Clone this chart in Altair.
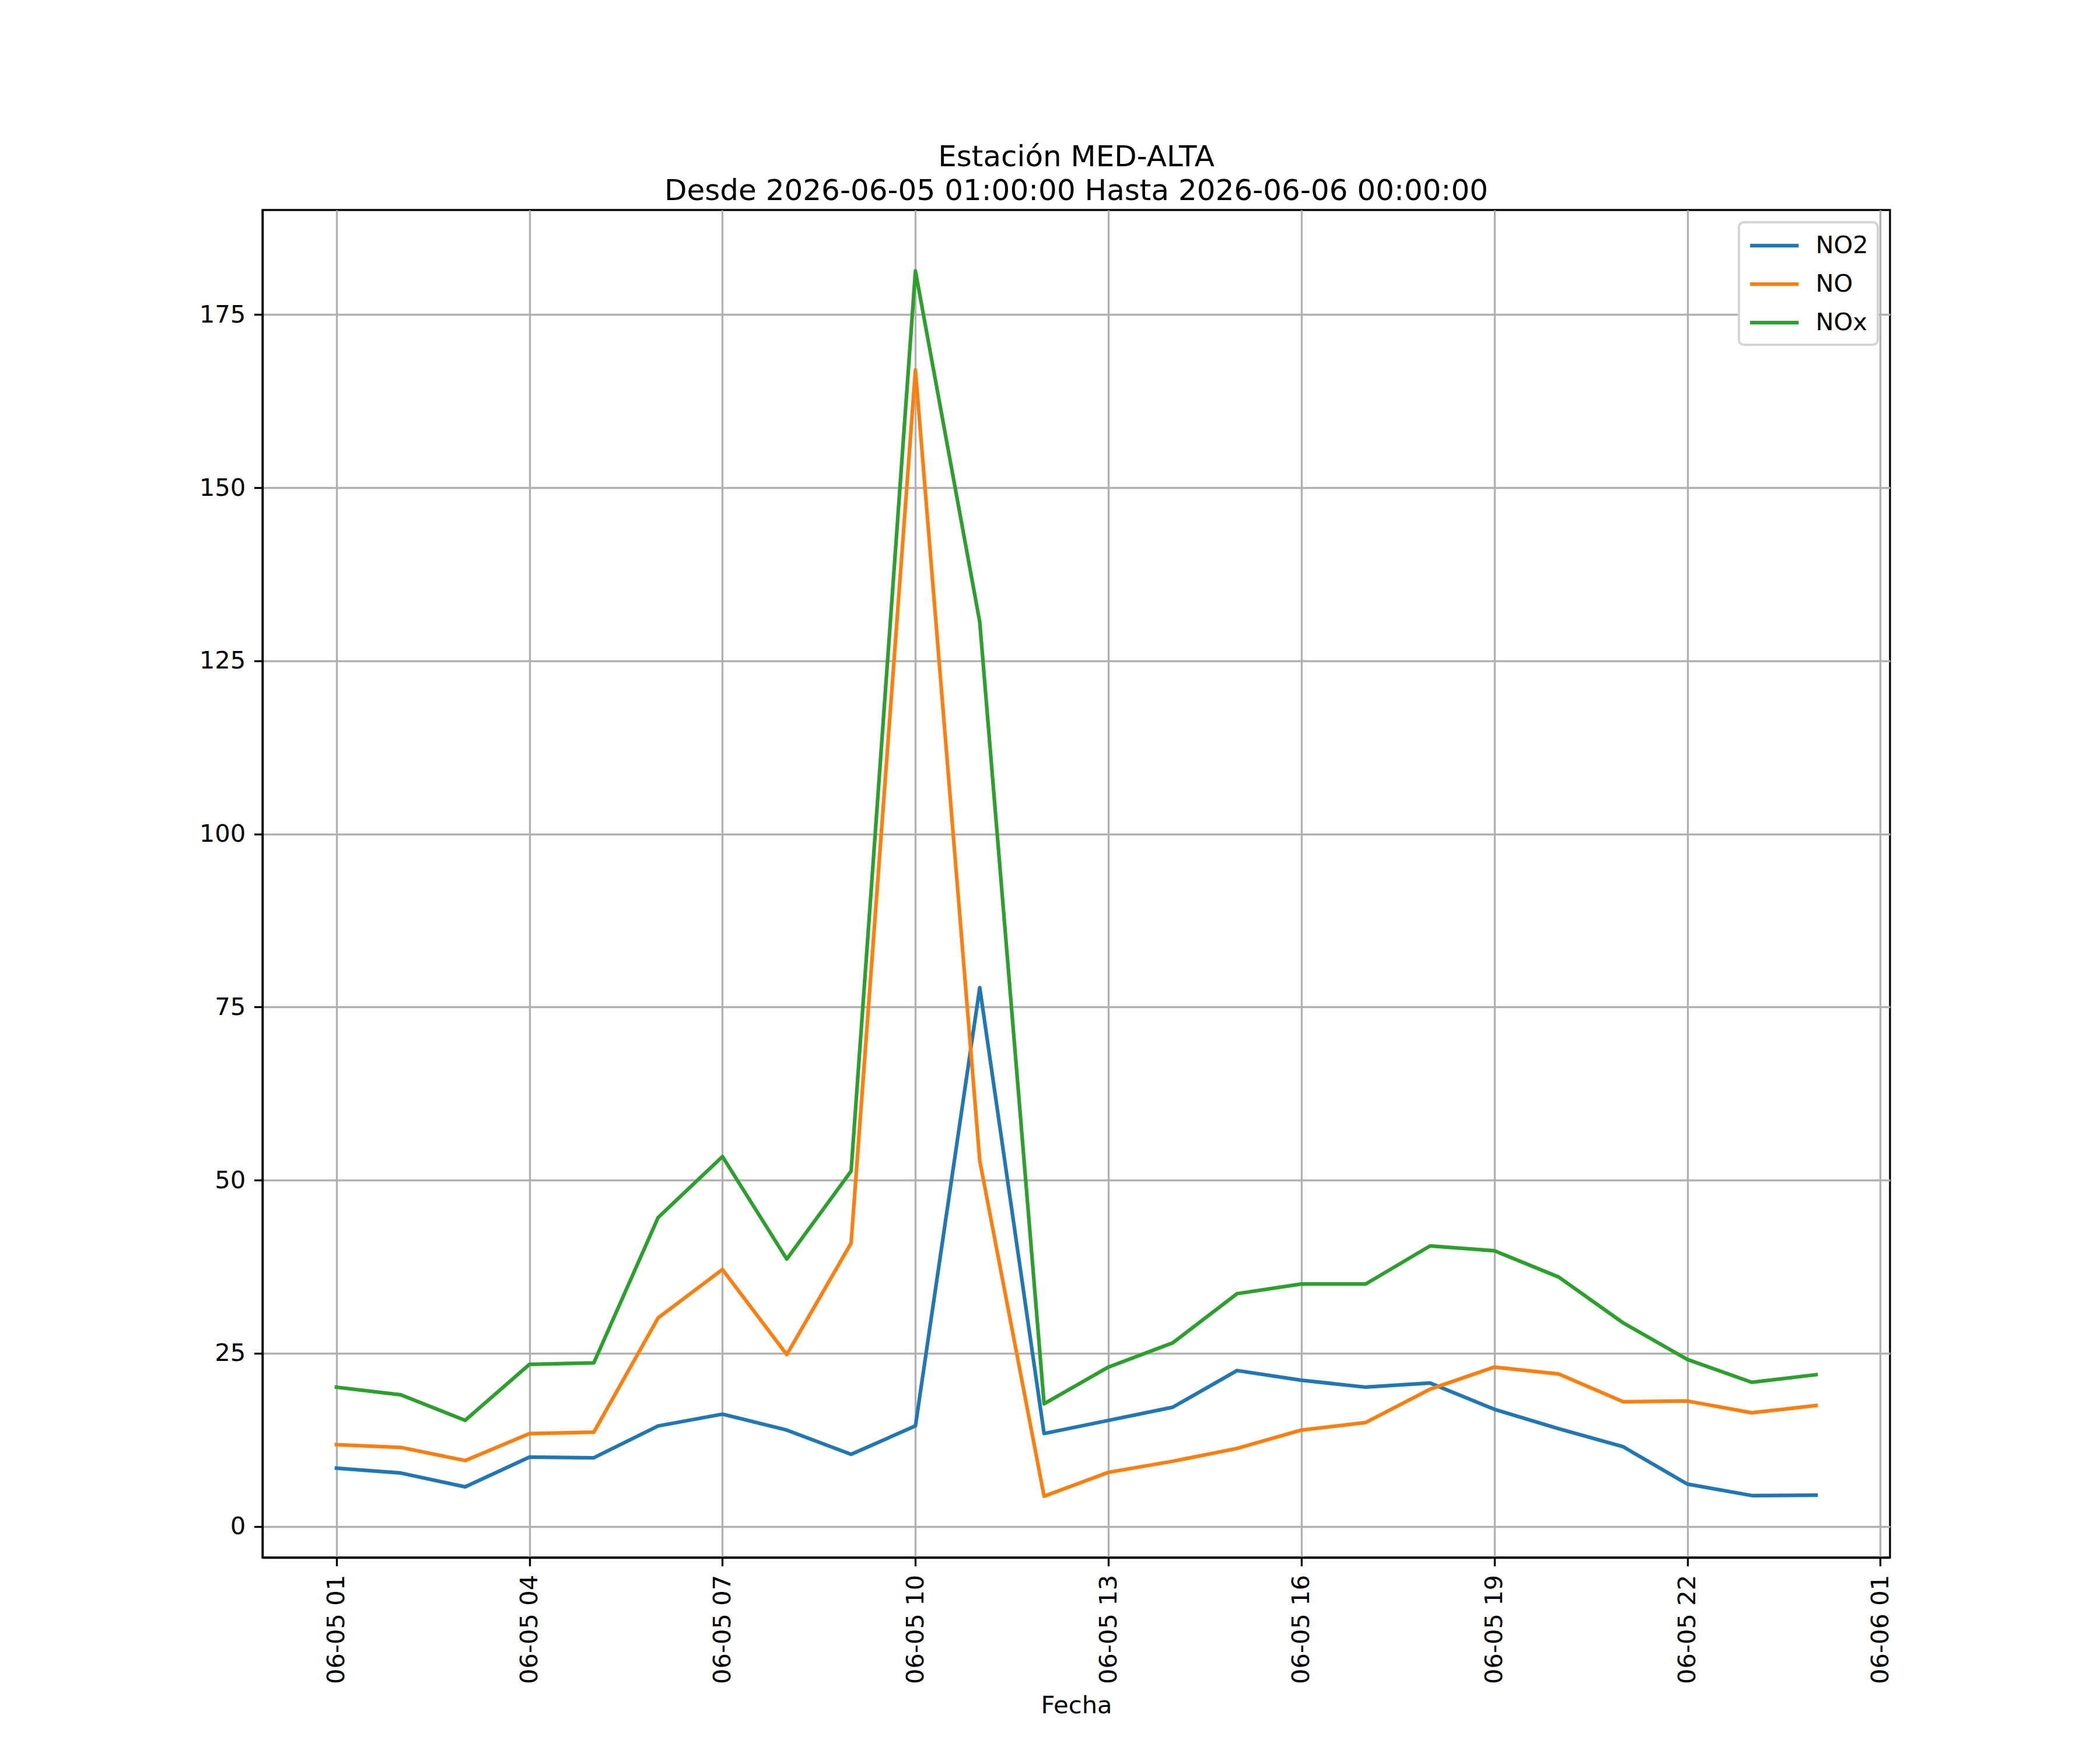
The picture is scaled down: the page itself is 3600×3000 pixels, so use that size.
import altair as alt
import pandas as pd

# ---- data ----
times = [f"2026-06-05T{h:02d}:00:00" for h in range(1, 24)] + ["2026-06-06T00:00:00"]

no2 = [8.4, 7.7, 5.7, 10.0, 9.9, 14.5, 16.2, 13.9, 10.4, 14.5, 77.8, 13.4,
       15.3, 17.2, 22.5, 21.1, 20.1, 20.7, 16.9, 14.1, 11.5, 6.1, 4.45, 4.5]
no = [11.8, 11.4, 9.5, 13.4, 13.6, 30.1, 37.1, 24.8, 40.9, 167.0, 52.8, 4.35,
      7.8, 9.4, 11.25, 13.9, 15.0, 19.8, 23.0, 22.0, 18.0, 18.1, 16.4, 17.45]
nox = [20.1, 19.0, 15.3, 23.4, 23.6, 44.6, 53.4, 38.6, 51.3, 181.3, 130.6, 17.7,
       23.0, 26.5, 33.6, 35.0, 35.0, 40.5, 39.8, 36.0, 29.4, 24.1, 20.8, 21.9]

series_names = ["NO2", "NO", "NOx"]
series_colors = ["#1f77b4", "#ff7f0e", "#2ca02c"]
y_ticks = [0, 25, 50, 75, 100, 125, 150, 175]
x_tick_hours = [(5, h) for h in range(1, 23, 3)] + [(6, 1)]

title_lines = ["Estación MED-ALTA",
               "Desde 2026-06-05 01:00:00 Hasta 2026-06-06 00:00:00"]

rows = []
for name, vals in zip(series_names, [no2, no, nox]):
    for t, v in zip(times, vals):
        rows.append({"Fecha": t, "valor": v, "serie": name})
df = pd.DataFrame(rows)

FONT = "DejaVu Sans"
FS = 41.67

x_values = [alt.DateTime(year=2026, month=6, date=d, hours=h) for d, h in x_tick_hours]

chart = alt.Chart(df).mark_line(
    strokeWidth=6.25, strokeCap="square", strokeJoin="round"
).encode(
    x=alt.X("Fecha:T",
            scale=alt.Scale(domain=[alt.DateTime(year=2026, month=6, date=4, hours=23, minutes=51),
                                    alt.DateTime(year=2026, month=6, date=6, hours=1, minutes=9)],
                            nice=False),
            axis=alt.Axis(values=x_values, format="%m-%d %H", labelAngle=-90,
                          labelFlush=False, labelOverlap=False, labelLimit=600,
                          title="Fecha", titlePadding=33)),
    y=alt.Y("valor:Q",
            scale=alt.Scale(domain=[-4.5, 190.1], nice=False, zero=False),
            axis=alt.Axis(values=y_ticks, title=None, labelFlush=False, labelOverlap=False)),
    color=alt.Color("serie:N",
                    scale=alt.Scale(domain=series_names, range=series_colors),
                    legend=alt.Legend(title=None, orient="top-right", offset=21,
                                      padding=16, strokeColor="#d4d4d4", fillColor="white",
                                      cornerRadius=8, symbolType="M-2,0L2,0",
                                      symbolStrokeWidth=6.25, symbolSize=1736,
                                      symbolOffset=20.8,
                                      labelFontSize=FS, labelFont=FONT, labelColor="black",
                                      labelOffset=46.6, rowPadding=20)),
).properties(
    width=2790,
    height=2310,
    title=alt.TitleParams(text=title_lines, fontSize=50, font=FONT, fontWeight="normal",
                          anchor="middle", offset=-33, baseline="alphabetic",
                          lineHeight=58, color="black"),
    autosize=alt.AutoSizeParams(type="none"),
    padding={"left": 442, "top": 352, "right": 352, "bottom": 322},
).configure_view(
    stroke="black", strokeWidth=3.33
).configure_axis(
    domainColor="black", domainWidth=3.33,
    tickColor="black", tickWidth=3.33, tickSize=14.6,
    labelPadding=14.6, labelFont=FONT, labelFontSize=FS, labelColor="black",
    gridColor="#b0b0b0", gridWidth=3.33, grid=True,
    titleFont=FONT, titleFontSize=FS, titleFontWeight="normal", titleColor="black",
).configure_legend(
    strokeWidth=4
)

chart.save("out.html", embed_options={"renderer": "svg", "actions": False})
